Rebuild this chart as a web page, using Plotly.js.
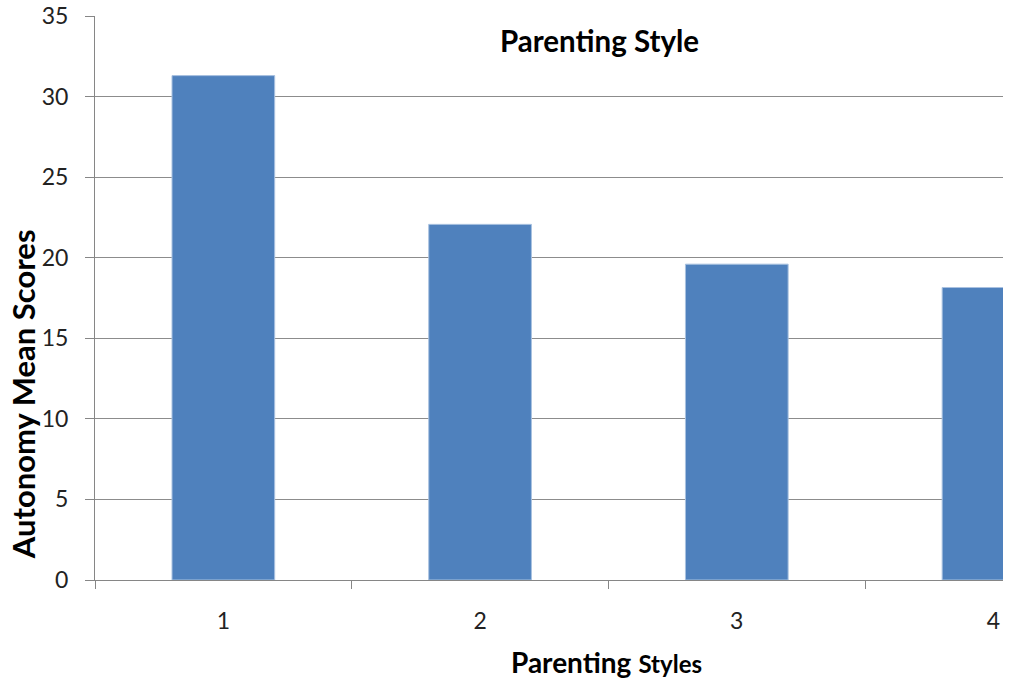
<!DOCTYPE html>
<html>
<head>
<meta charset="utf-8">
<script src="https://cdn.plot.ly/plotly-3.0.1.min.js"></script>
<style>
  html, body { margin: 0; padding: 0; background: #ffffff; }
  #chart { width: 1013px; height: 687px; }
</style>
</head>
<body>
<div id="chart"></div>
<script>
const categories = ["1", "2", "3", "4"];
const meanScores = [31.3, 22.07, 19.6, 18.15];
const yTickValues = [0, 5, 10, 15, 20, 25, 30, 35];
const chartTitle = "Parenting Style";
const yTitle = "Autonomy Mean Scores";
const xTitleMain = "Parenting";
const xTitleSmall = "Styles";

const FONT = "Lato, 'Open Sans', sans-serif";

const trace = {
  type: "bar",
  x: categories,
  y: meanScores,
  marker: { color: "#4F81BD", line: { color: "#A9C2E0", width: 1 } },
  width: 0.4,
  hoverinfo: "x+y"
};

const layout = {
  width: 1013,
  height: 687,
  margin: { l: 95, r: 10, t: 16, b: 107 },
  paper_bgcolor: "#ffffff",
  plot_bgcolor: "#ffffff",
  showlegend: false,
  font: { family: FONT, color: "#222222" },
  xaxis: {
    type: "category",
    categoryorder: "array",
    categoryarray: categories,
    range: [-0.5, 3.037],
    tickson: "boundaries",
    ticks: "outside",
    ticklen: 8,
    tickwidth: 1,
    tickcolor: "#868686",
    showline: true,
    linecolor: "#868686",
    linewidth: 1,
    showgrid: false,
    zeroline: false,
    tickfont: { family: FONT, size: 23, color: "#222222" },
    ticklabelstandoff: 20
  },
  yaxis: {
    range: [0, 35],
    tickvals: yTickValues,
    ticktext: yTickValues.map(String),
    ticks: "outside",
    ticklen: 9,
    tickwidth: 1,
    tickcolor: "#868686",
    showline: true,
    linecolor: "#868686",
    linewidth: 1,
    showgrid: true,
    gridcolor: "#8C8C8C",
    gridwidth: 1,
    zeroline: false,
    tickfont: { family: FONT, size: 23, color: "#222222" },
    ticklabelstandoff: 12
  },
  annotations: [
    {
      text: "<b>" + chartTitle + "</b>",
      xref: "paper", yref: "paper",
      x: 0.5556, y: 0.956,
      xanchor: "center", yanchor: "middle",
      showarrow: false,
      font: { family: FONT, size: 29.5, color: "#000000" }
    },
    {
      text: "<b>" + yTitle + "</b>",
      xref: "paper", yref: "paper",
      x: -0.079, y: 0.33,
      xanchor: "center", yanchor: "middle",
      textangle: -90,
      showarrow: false,
      font: { family: FONT, size: 31, color: "#000000" }
    },
    {
      text: "<b>" + xTitleMain + "</b> <b><span style='font-size:24px'>" + xTitleSmall + "</span></b>",
      xref: "paper", yref: "paper",
      x: 0.5628, y: -0.146,
      xanchor: "center", yanchor: "middle",
      showarrow: false,
      font: { family: FONT, size: 28, color: "#000000" }
    }
  ]
};

Plotly.newPlot("chart", [trace], layout, { displayModeBar: false, staticPlot: true });
</script>
</body>
</html>
